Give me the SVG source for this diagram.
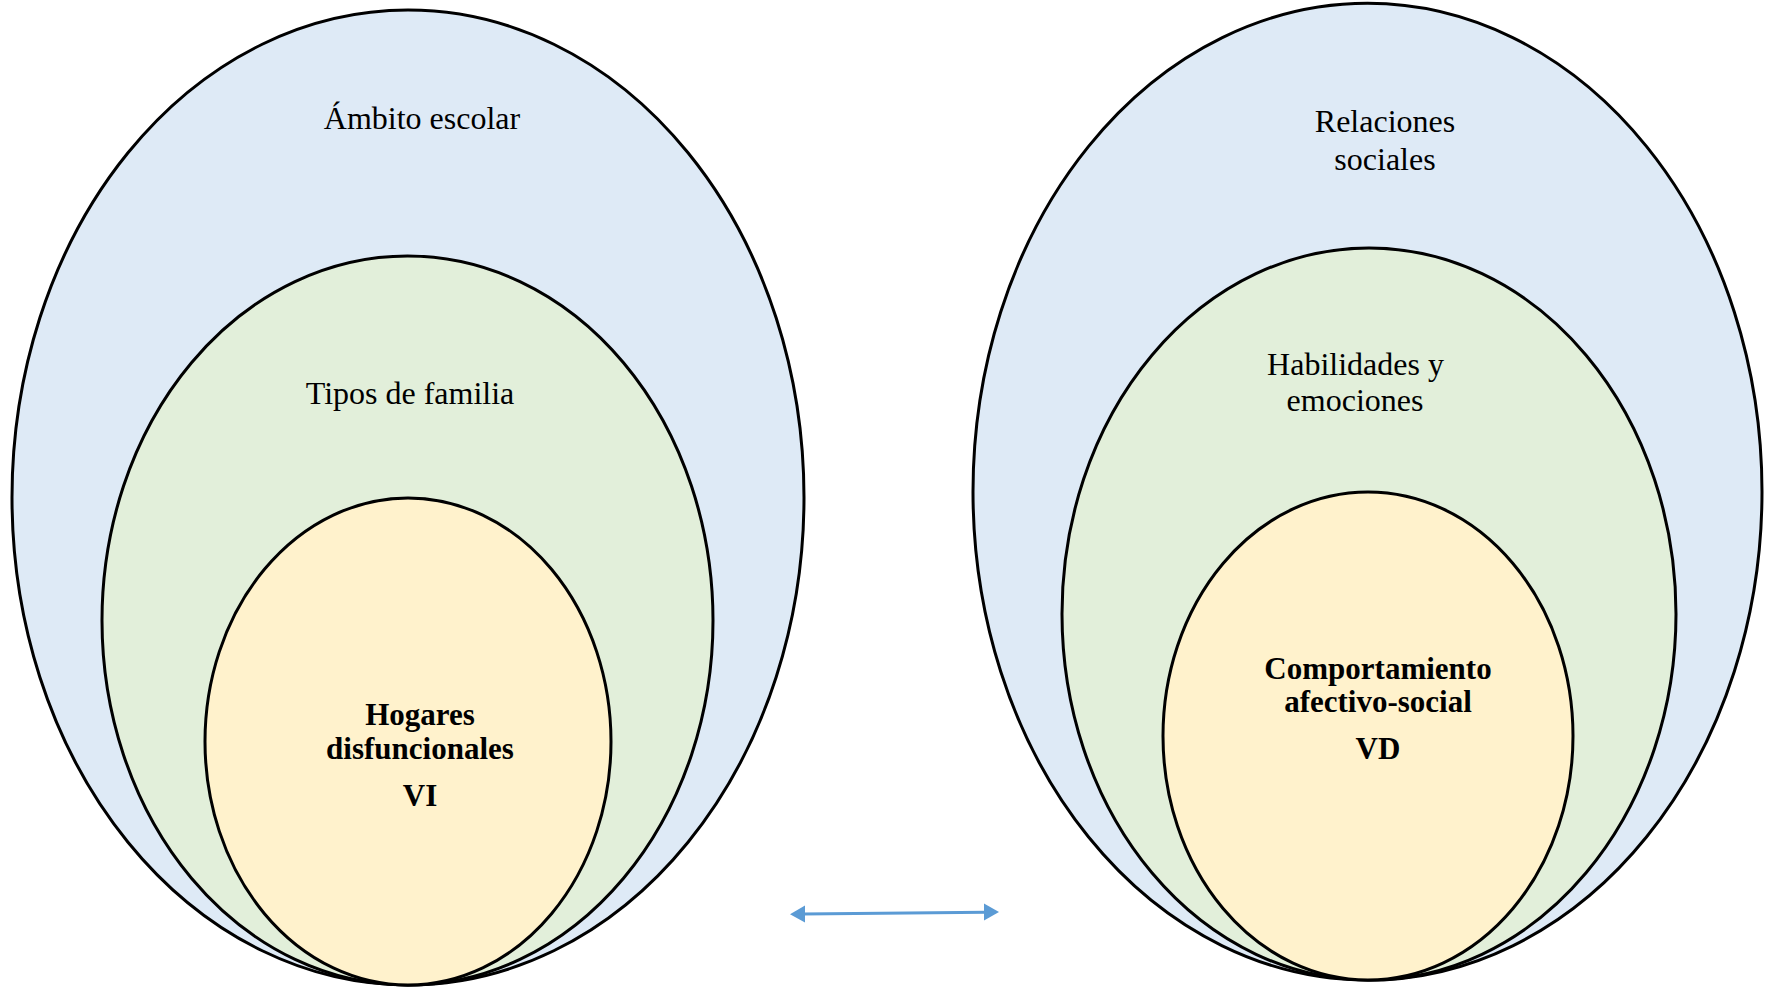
<svg xmlns="http://www.w3.org/2000/svg" width="1765" height="987" viewBox="0 0 1765 987">
<style>
.e{stroke:#000;stroke-width:3}
.b{fill:#DEEAF6}
.g{fill:#E2EFDA}
.y{fill:#FFF2CC}
.t{font-family:"Liberation Serif","Times New Roman",serif;font-size:32px;fill:#000;text-anchor:middle}
.tb{font-family:"Liberation Serif","Times New Roman",serif;font-size:31px;font-weight:bold;fill:#000;text-anchor:middle}
.c{stroke:#5B9BD5;stroke-width:3;fill:none}
.h{fill:#5B9BD5}
</style>
<rect width="1765" height="987" fill="#fff"/>
<g id="ambito-escolar">
<ellipse class="e b" cx="408" cy="497.5" rx="396" ry="487.5"/>
<text class="t" x="422" y="129">Ámbito escolar</text>
</g>
<g id="tipos-familia">
<ellipse class="e g" cx="407.5" cy="620.5" rx="305.5" ry="364.5"/>
<text class="t" x="410" y="404">Tipos de familia</text>
</g>
<g id="hogares-disfuncionales">
<ellipse class="e y" cx="408" cy="741.5" rx="203" ry="243.5"/>
<text class="tb" x="420" y="725">Hogares</text>
<text class="tb" x="420" y="759">disfuncionales</text>
<text class="tb" x="420" y="806">VI</text>
</g>
<g id="relaciones-sociales">
<ellipse class="e b" cx="1367.5" cy="491.7" rx="394.5" ry="488.4"/>
<text class="t" x="1385" y="132">Relaciones</text>
<text class="t" x="1385" y="170">sociales</text>
</g>
<g id="habilidades-emociones">
<ellipse class="e g" cx="1369" cy="614" rx="307" ry="366"/>
<text class="t" x="1355.5" y="375">Habilidades y</text>
<text class="t" x="1355" y="410.5">emociones</text>
</g>
<g id="comportamiento">
<ellipse class="e y" cx="1368" cy="736" rx="205" ry="244"/>
<text class="tb" x="1378" y="679">Comportamiento</text>
<text class="tb" x="1378" y="712">afectivo-social</text>
<text class="tb" x="1378" y="759">VD</text>
</g>
<g id="connectors">
<line class="c" x1="803" y1="914" x2="986" y2="912.2"/>
<polygon class="h" points="790,914.3 805,905.5 805,922.5"/>
<polygon class="h" points="999,912 984,903.5 984,920.5"/>
</g>
</svg>
